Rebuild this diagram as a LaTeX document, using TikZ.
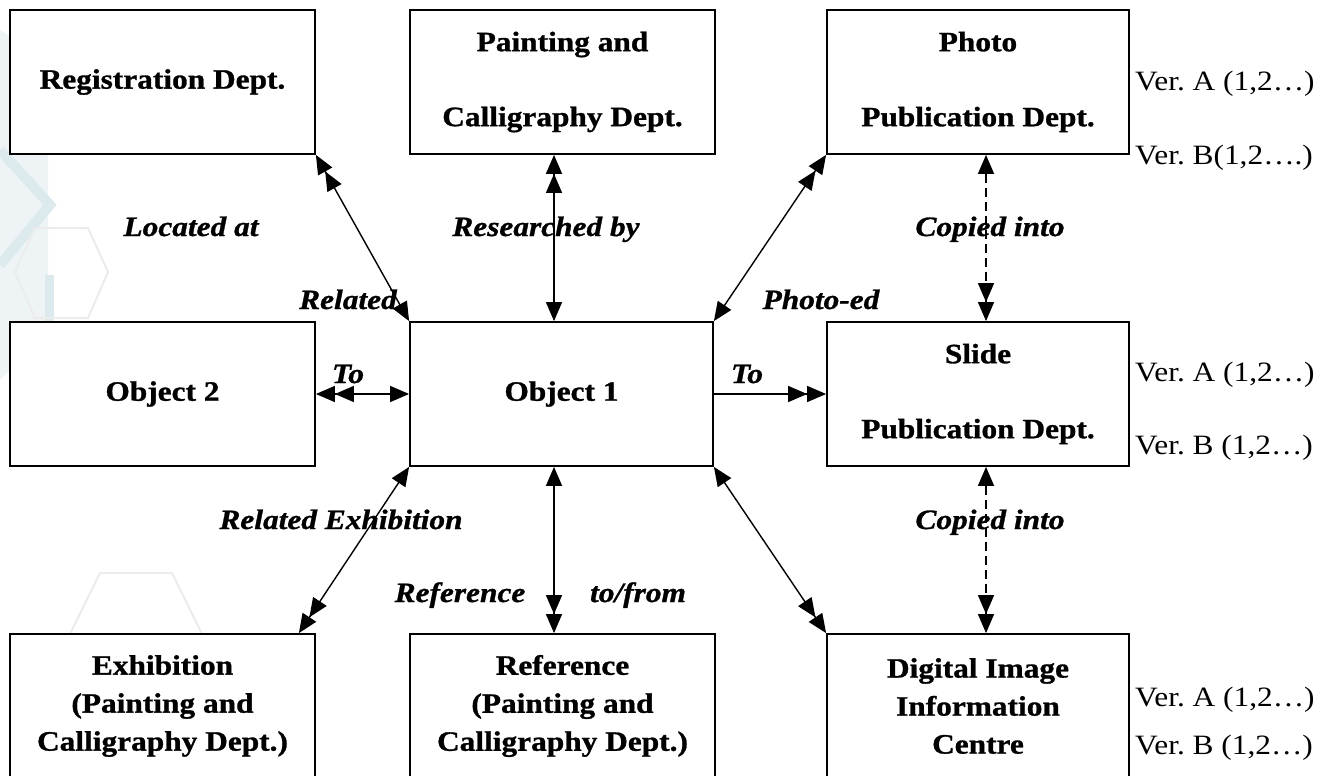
\documentclass[tikz,border=0pt]{standalone}
\usepackage{fontspec}
\setmainfont{Liberation Serif}[FakeStretch=1.12,
  BoldFeatures={FakeBold=1.0}, BoldItalicFeatures={FakeBold=1.0}]
\usetikzlibrary{arrows.meta}
\frenchspacing

\definecolor{wmfill}{HTML}{EEF4F6}
\definecolor{wmline}{HTML}{DCE9ED}
\definecolor{hexline}{HTML}{ECECEC}

\newcommand\boxfont{\fontsize{28}{38}\selectfont\bfseries}
\newcommand\lblfont{\fontsize{28}{34}\selectfont\bfseries\itshape}
\newcommand\verfont{\fontsize{28}{34}\selectfont}

\tikzset{
  >={Triangle[length=19pt,width=16pt]},
  box/.style={draw, line width=1.8pt, fill=white, minimum width=305pt,
    minimum height=144pt, inner sep=0pt, align=center, font=\boxfont},
  rel/.style={line width=1.4pt},
  copyrel/.style={rel, dash pattern=on 9pt off 5pt},
  lbl/.style={font=\lblfont, inner sep=0pt, anchor=base},
  ver/.style={font=\verfont, inner sep=0pt, anchor=base west},
}

\begin{document}
\begin{tikzpicture}[x=1pt, y=-1pt]
  \useasboundingbox (0,0) rectangle (1325,776);
  \fill[white] (0,0) rectangle (1325,776);

  % faint watermark on the left edge
  \fill[wmfill] (0,30) -- (48,60) -- (48,330) -- (0,380) -- cycle;
  \draw[wmline, line width=10pt] (0,150) -- (50,205) -- (0,265);
  \draw[wmline, line width=9pt] (49,275) -- (49,340);
  \draw[hexline, line width=2pt] (35,228) -- (88,228) -- (108,272) -- (88,318) -- (35,318) -- (15,272) -- cycle;
  \draw[hexline, line width=2pt] (100,573) -- (172,573) -- (205,640) -- (172,707) -- (100,707) -- (67,640) -- cycle;

  % departments and objects
  \node[box] (reg) at (162.5,82) {Registration Dept.};
  \node[box] (paint) at (562.5,82) {Painting and\\[37pt]Calligraphy Dept.};
  \node[box, minimum width=302pt] (photo) at (978,82) {Photo\\[37pt]Publication Dept.};
  \node[box] (obj2) at (162.5,394) {Object 2};
  \node[box, minimum width=303pt] (obj1) at (561.5,394) {Object 1};
  \node[box, minimum width=302pt] (slide) at (978,394) {Slide\\[37pt]Publication Dept.};
  \node[box] (exhib) at (162.5,706) {Exhibition\\(Painting and\\Calligraphy Dept.)};
  \node[box] (refer) at (562.5,706) {Reference\\(Painting and\\Calligraphy Dept.)};
  \node[box, minimum width=302pt] (digital) at (978,706) {Digital Image\\Information\\Centre};

  % relations
  \draw[rel, <<->] (reg.south east) -- (obj1.north west);
  \draw[rel, <<->] ([xshift=-8.5pt]paint.south) -- ([xshift=-7.5pt]obj1.north);
  \draw[rel, <<->] (photo.south west) -- (obj1.north east);
  \draw[rel, <<->] (obj2.east) -- (obj1.west);
  \draw[rel, ->>] (obj1.east) -- (slide.west);
  \draw[rel, <->>] (obj1.south west) -- ([xshift=-17pt]exhib.north east);
  \draw[rel, <->>] ([xshift=-7.5pt]obj1.south) -- ([xshift=-8.5pt]refer.north);
  \draw[rel, <->>] (obj1.south east) -- (digital.north west);
  \draw[copyrel, <->>] ([xshift=8pt]photo.south) -- ([xshift=8pt]slide.north);
  \draw[copyrel, <->>] ([xshift=8pt]slide.south) -- ([xshift=8pt]digital.north);

  % relation labels
  \node[lbl] (lLoc) at (191,236) {Located at};
  \node[lbl] (lRes) at (546,236) {Researched by};
  \node[lbl] (lCopA) at (990,236) {Copied into};
  \node[lbl] (lRel) at (348,309) {Related};
  \node[lbl] (lPho) at (821,309) {Photo-ed};
  \node[lbl] (lToA) at (348,383) {To};
  \node[lbl] (lToB) at (747,383) {To};
  \node[lbl] (lRelEx) at (341,529) {Related Exhibition};
  \node[lbl] (lCopB) at (990,529) {Copied into};
  \node[lbl] (lRef) at (460,602) {Reference};
  \node[lbl] (lTf) at (638,602) {to/from};

  % versions
  \node[ver] (phA) at (1135,91) {Ver. A (1,2…)};
  \node[ver] (phB) at (1135,164) {Ver. B(1,2….)};
  \node[ver] (slA) at (1135,381) {Ver. A (1,2…)};
  \node[ver] (slB) at (1135,454) {Ver. B (1,2…)};
  \node[ver] (diA) at (1135,706) {Ver. A (1,2…)};
  \node[ver] (diB) at (1135,754) {Ver. B (1,2…)};
\end{tikzpicture}
\end{document}
